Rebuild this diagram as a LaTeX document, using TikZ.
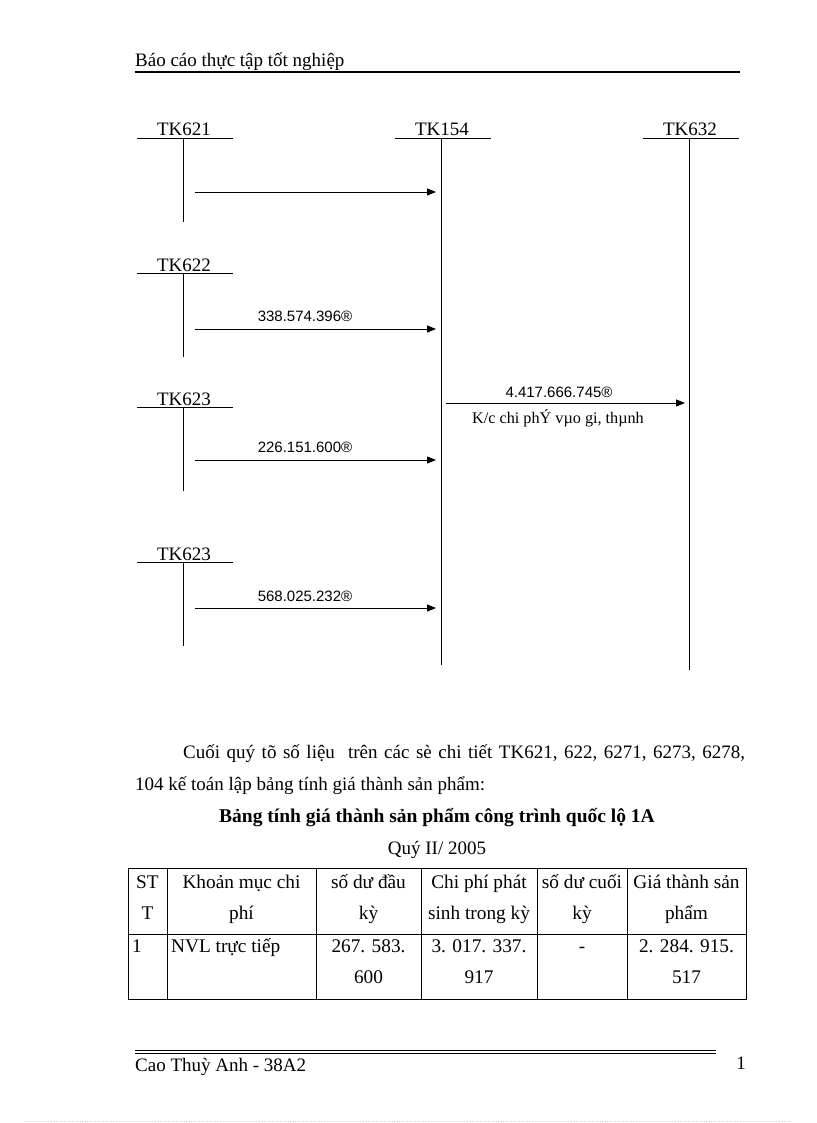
\documentclass[tikz,border=0pt]{standalone}
\usepackage{fontspec}
\setmainfont{Liberation Serif}
\newfontfamily\arialf{Liberation Sans}
\usetikzlibrary{arrows.meta}
\begin{document}
\begin{tikzpicture}[x=1pt,y=-1pt,
  hdr/.style={font=\fontsize{19}{19}\selectfont, anchor=base west, inner sep=0pt},
  acct/.style={font=\fontsize{19}{19}\selectfont, anchor=base, inner sep=0pt},
  amt/.style={font=\arialf\fontsize{15}{15}\selectfont, anchor=base, inner sep=0pt},
  note/.style={font=\fontsize{16.2}{16.2}\selectfont, anchor=base, inner sep=0pt},
  body/.style={font=\fontsize{19}{19}\selectfont, anchor=base, inner sep=0pt},
  cell/.style={font=\fontsize{19.3}{19.3}\selectfont, anchor=base, inner sep=0pt},
  flow/.style={line width=0.8pt, -{Triangle[length=9pt,width=7pt]}},
  tline/.style={line width=0.8pt},
  grid/.style={line width=0.9pt}]
\useasboundingbox (0,0) rectangle (816,1123);

% header
\node[hdr] (header) at (135,67) {Báo cáo thực tập tốt nghiệp};
\coordinate (hl1) at (135,72); \coordinate (hl2) at (740,72);
\draw[line width=2pt] (hl1) -- (hl2);

% T-accounts
\node[acct] (tk621) at (184,136) {TK621};
\draw[tline] (137,138) -- (233,138); \draw[tline] (183,138) -- (183,222);
\node[acct] (tk154) at (442,136) {TK154};
\draw[tline] (395,138) -- (491,138); \draw[tline] (441,138) -- (441,665);
\node[acct] (tk632) at (690,136) {TK632};
\draw[tline] (643,138) -- (739,138); \draw[tline] (689,138) -- (689,670);

\node[acct] (tk622) at (184,271) {TK622};
\draw[tline] (137,273) -- (233,273); \draw[tline] (183,273) -- (183,357);
\node[acct] (tk623a) at (184,405) {TK623};
\draw[tline] (137,407) -- (233,407); \draw[tline] (183,407) -- (183,491);
\node[acct] (tk623b) at (184,560) {TK623};
\draw[tline] (137,562) -- (233,562); \draw[tline] (183,562) -- (183,646);

% flows
\coordinate (f1s) at (195,192); \coordinate (f1e) at (436,192);
\draw[flow] (f1s) -- (f1e);
\coordinate (f2s) at (195,329); \coordinate (f2e) at (436,329);
\draw[flow] (f2s) -- (f2e);
\node[amt] (amt2) at (305,321) {338.574.396®};
\coordinate (f3s) at (446,403); \coordinate (f3e) at (685,403);
\draw[flow] (f3s) -- (f3e);
\node[amt] (amt3) at (559,397) {4.417.666.745®};
\node[note] (kc) at (558,423) {K/c chi phÝ vµo gi,  thµnh};
\coordinate (f4s) at (195,460); \coordinate (f4e) at (436,460);
\draw[flow] (f4s) -- (f4e);
\node[amt] (amt4) at (305,452) {226.151.600®};
\coordinate (f5s) at (195,608); \coordinate (f5e) at (436,608);
\draw[flow] (f5s) -- (f5e);
\node[amt] (amt5) at (305,601) {568.025.232®};

% paragraph
\node[body, anchor=base west] (p1) at (183,758) {\makebox[562pt][l]{Cuối\hfill quý\hfill tõ\hfill số\hfill liệu\hfill\hfill trên\hfill các\hfill sè\hfill chi\hfill tiết\hfill TK621,\hfill 622,\hfill 6271,\hfill 6273,\hfill 6278,}};
\node[body, anchor=base west] (p2) at (135,790) {104 kế toán lập bảng tính giá thành sản phẩm:};
\node[body, font=\fontsize{19.5}{19.5}\selectfont\bfseries] (title) at (437,822) {Bảng tính giá thành sản phẩm công trình quốc lộ 1A};
\node[body] (quy) at (437,854) {Quý II/ 2005};

% table
\draw[grid] (128,868) rectangle (746,999);
\draw[grid] (128,934) -- (746,934);
\foreach \cx in {167,316,421,537,627} \draw[grid] (\cx,868) -- (\cx,999);

\node[cell] (h1a) at (147.5,888) {ST};
\node[cell] (h1b) at (147.5,919) {T};
\node[cell] (h2a) at (241.5,888) {Khoản mục chi};
\node[cell] (h2b) at (241.5,919) {phí};
\node[cell] (h3a) at (368.5,888) {số dư đầu};
\node[cell] (h3b) at (368.5,919) {kỳ};
\node[cell] (h4a) at (479,888) {Chi phí phát};
\node[cell] (h4b) at (479,919) {sinh trong kỳ};
\node[cell] (h5a) at (582,888) {số dư cuối};
\node[cell] (h5b) at (582,919) {kỳ};
\node[cell] (h6a) at (686.5,888) {Giá thành sản};
\node[cell] (h6b) at (686.5,919) {phẩm};

\node[cell, anchor=base west] (d1) at (132,952) {1};
\node[cell, anchor=base west] (d2) at (171,952) {NVL trực tiếp};
\node[cell] (d3a) at (368.5,952) {267. 583.};
\node[cell] (d3b) at (368.5,983) {600};
\node[cell] (d4a) at (479,952) {3. 017. 337.};
\node[cell] (d4b) at (479,983) {917};
\node[cell] (d5) at (582,952) {-};
\node[cell] (d6a) at (686.5,952) {2. 284. 915.};
\node[cell] (d6b) at (686.5,983) {517};

% footer
\draw[line width=1pt] (135,1050) -- (716,1050);
\draw[line width=1pt] (135,1053.3) -- (716,1053.3);
\node[hdr] (foot) at (135,1071) {Cao Thuỳ Anh - 38A2};
\node[hdr, anchor=base] (pg) at (741,1069) {1};

% page edge marker
\draw[gray!40, dotted, line width=0.6pt] (25,1121) -- (790,1121);
\end{tikzpicture}
\end{document}
